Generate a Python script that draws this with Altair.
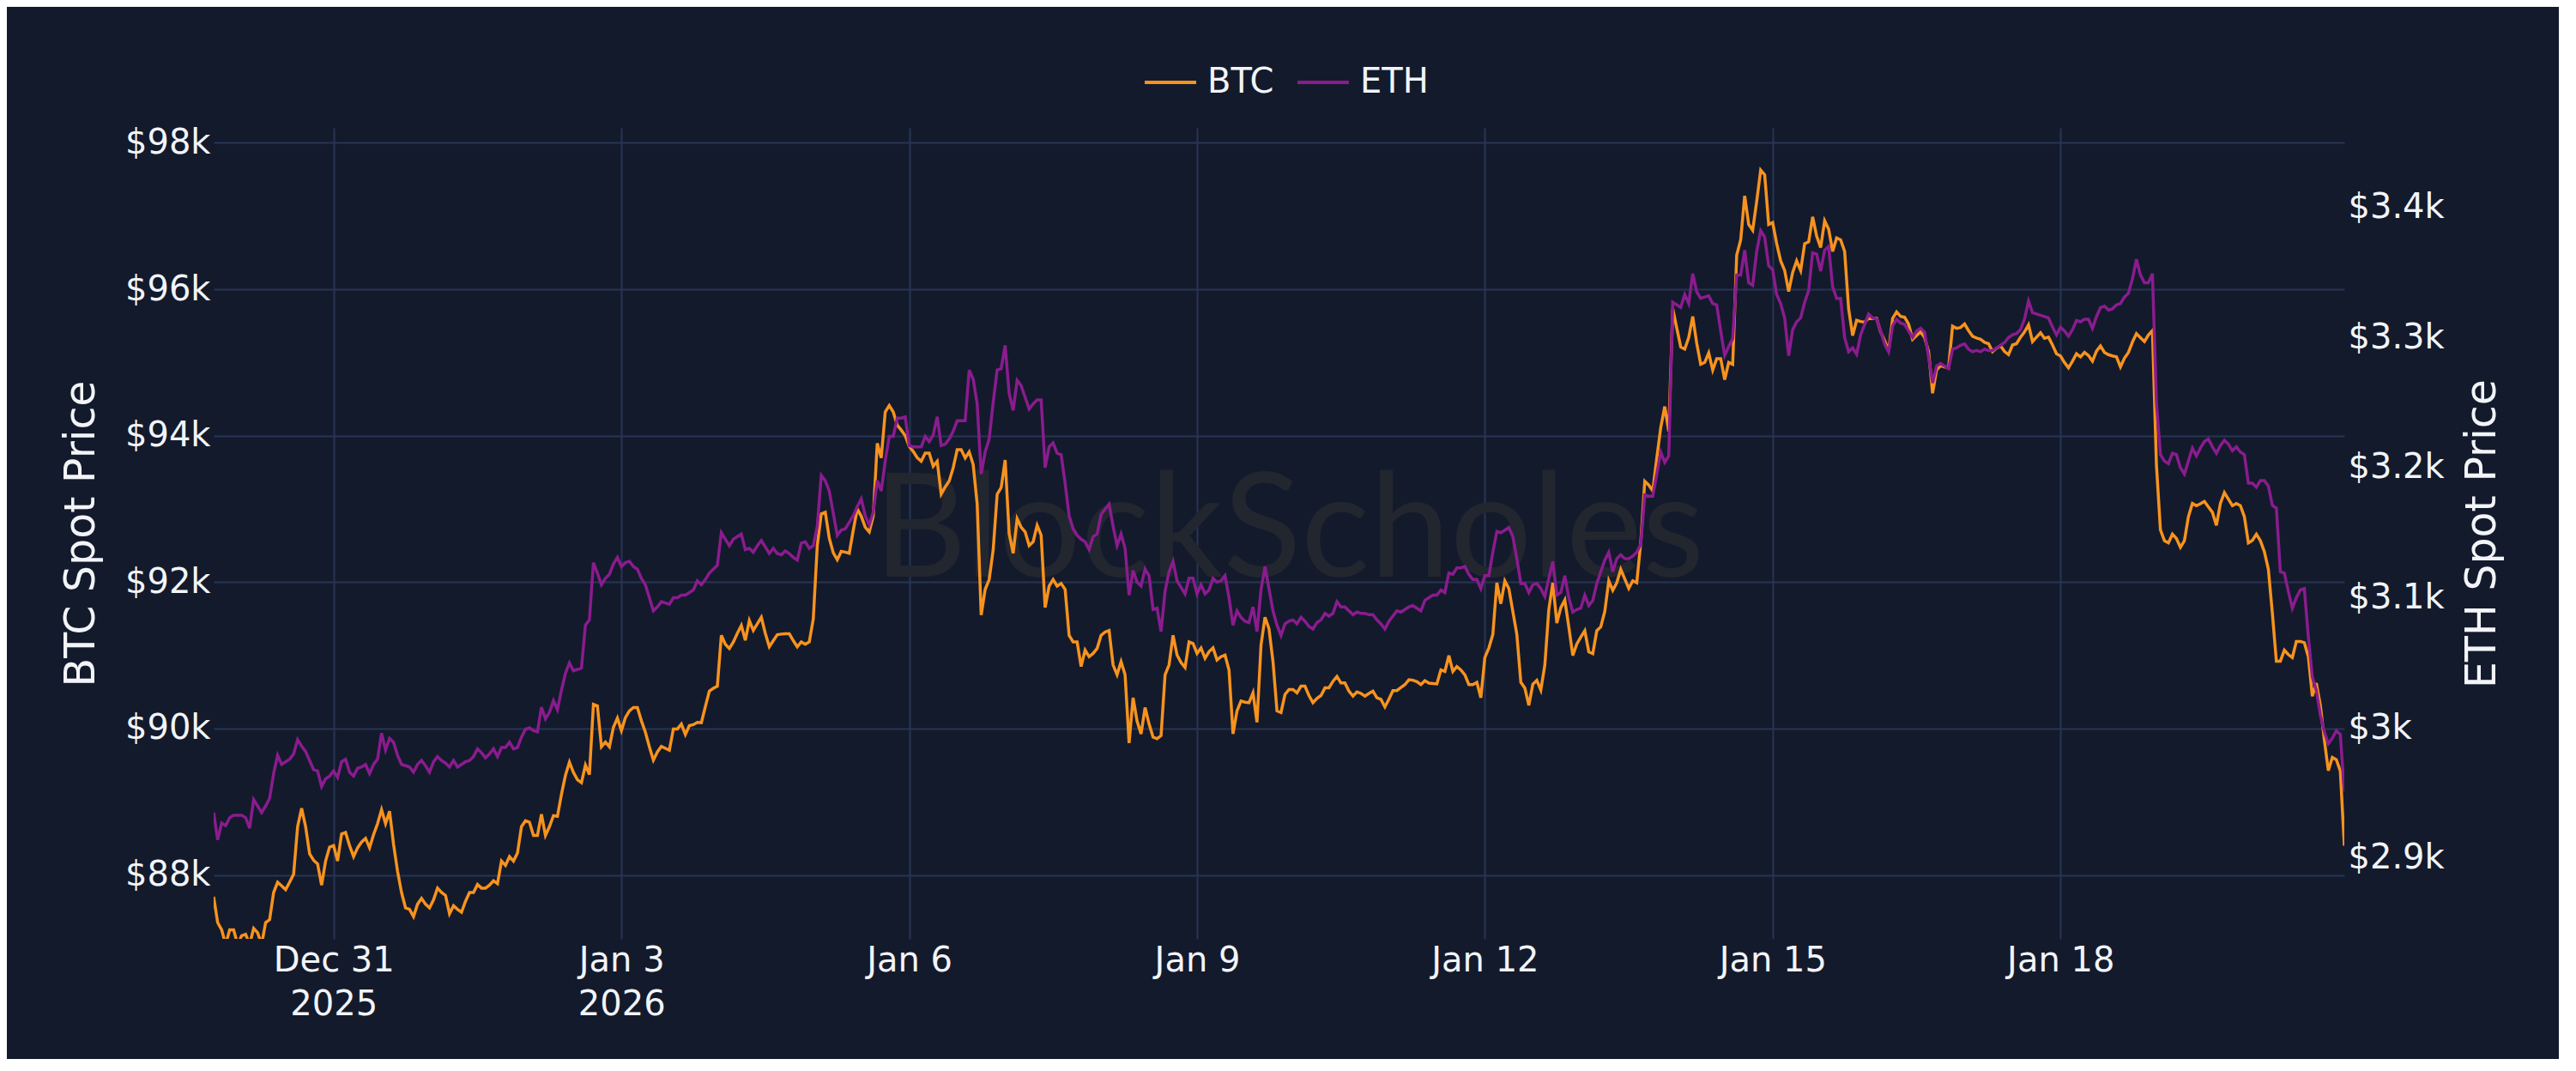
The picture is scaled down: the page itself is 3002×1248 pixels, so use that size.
import altair as alt
import pandas as pd

# ---------------- data (hourly, first point 2025-12-29 18:00) ----------------
START = "2025-12-29T18:00:00"

btc_values = [
    87700, 87350, 87250, 87050, 87250, 87250, 87050, 87170, 87190, 87050,
    87270, 87210, 87050, 87350, 87390, 87760, 87900, 87850, 87800, 87900,
    88010, 88660, 88910, 88660, 88290, 88200, 88150, 87860, 88190, 88380,
    88400, 88190, 88560, 88580, 88400, 88250, 88370, 88450, 88500, 88370,
    88550, 88700, 88890, 88700, 88870, 88420, 88050, 87760, 87550, 87530,
    87430, 87600, 87680, 87600, 87550, 87660, 87820, 87760, 87720, 87470,
    87580, 87530, 87490, 87640, 87760, 87760, 87870, 87820, 87820, 87860,
    87920, 87880, 88190, 88130, 88250, 88190, 88300, 88660, 88740, 88720,
    88540, 88540, 88830, 88540, 88660, 88810, 88800, 89100, 89360, 89540,
    89400, 89300, 89260, 89500, 89370, 90330, 90310, 89750, 89815, 89750,
    90017, 90142, 89972, 90150, 90241, 90286, 90286, 90106, 89950, 89750,
    89568, 89680, 89757, 89730, 89703, 89994, 89994, 90062, 89918, 90039,
    90053, 90084, 90080, 90300, 90510, 90550, 90578, 91273, 91150, 91093,
    91180, 91300, 91407, 91206, 91475, 91340, 91430, 91520, 91300, 91116,
    91200, 91282, 91290, 91295, 91295, 91200, 91116, 91183, 91150, 91183,
    91497, 92500, 92933, 92955, 92600, 92400, 92305, 92420, 92410, 92394,
    92708, 93000, 92900, 92750, 92686, 92900, 93897, 93696, 94324, 94413,
    94324, 94144, 94077, 94000, 93853, 93785, 93700, 93651, 93763, 93763,
    93583, 93650, 93202, 93300, 93382, 93561, 93808, 93808, 93696, 93780,
    93606, 93067, 91550, 91900, 92035, 92440, 93200, 93290, 93668, 92664,
    92394, 92866, 92750, 92686, 92500, 92552, 92776, 92641, 91654, 91946,
    92035, 91946, 91982, 91901, 91273, 91183, 91183, 90847, 91071, 90981,
    91026, 91093, 91273, 91318, 91340, 90869, 90734, 90914, 90734, 89801,
    90420, 90100, 89927, 90286, 90062, 89882, 89860, 89904, 90734, 90869,
    91273, 91004, 90900, 90833, 91183, 91161, 91026, 91100, 90959, 91050,
    91102, 90936, 90981, 91004, 90800, 89927, 90241, 90376, 90360, 90353,
    90488, 90084, 91138, 91520, 91363, 90914, 90241, 90219, 90465, 90533,
    90533, 90488, 90578, 90578, 90450, 90353, 90411, 90450, 90555, 90555,
    90645, 90712, 90622, 90622, 90510, 90443, 90500, 90480, 90443, 90480,
    90510, 90420, 90398, 90295, 90400, 90519, 90519, 90560, 90600, 90667,
    90660, 90640, 90600, 90654, 90620, 90615, 90609, 90802, 90780, 90995,
    90780, 90847, 90800, 90734, 90600, 90600, 90631, 90421, 90971, 91100,
    91285, 91991, 91704, 92018, 91913, 91600, 91285, 90631, 90552, 90317,
    90605, 90657, 90526, 90866, 91625, 91991, 91441, 91651, 91756, 91389,
    90997, 91154, 91250, 91337, 91049, 91023, 91337, 91389, 91599, 92018,
    91887, 91991, 92174, 92044, 91913, 92018, 91991, 92541, 93378, 93326,
    93247, 93692, 94111, 94399, 94058, 95735, 95471, 95212, 95184, 95341,
    95629, 95263, 94975, 95001, 95131, 94896, 95053, 95053, 94765, 95001,
    94975, 96466, 96676, 97277, 96885, 96806, 97199, 97628, 97565, 96885,
    96911, 96623, 96388, 96257, 95969, 96231, 96388, 96257, 96623, 96649,
    96989, 96728, 96571, 96937, 96822, 96518, 96702, 96676, 96518, 95733,
    95367, 95576, 95560, 95550, 95602, 95600, 95602, 95419, 95300, 95158,
    95602, 95691, 95629, 95618, 95524, 95315, 95367, 95419, 95341, 95150,
    94580, 94900, 94958, 94940, 94928, 95496, 95466, 95478, 95526, 95436,
    95358, 95334, 95316, 95275, 95257, 95150, 95197, 95227, 95150, 95107,
    95239, 95257, 95346, 95418, 95514, 95286, 95346, 95406, 95330, 95346,
    95239, 95119, 95090, 95000, 94928, 95017, 95119, 95077, 95137, 95095,
    95017, 95155, 95227, 95137, 95107, 95090, 95077, 94940, 95059, 95137,
    95280, 95394, 95340, 95286, 95376, 95436, 93600, 92714, 92565, 92535,
    92655, 92595, 92476, 92565, 92894, 93074, 93044, 93070, 93103, 93026,
    92954, 92774, 93074, 93223, 93133, 93044, 93074, 93044, 92894, 92535,
    92570, 92655, 92565, 92416, 92176, 91578, 90920, 90920, 91070, 91010,
    90968, 91190, 91190, 91172, 90980, 90442, 90621, 90322, 89844, 89425,
    89605, 89575, 89420, 88400,
]

eth_values = [
    2935, 2914, 2927, 2925, 2931, 2933, 2933, 2933, 2931, 2923,
    2945, 2940, 2935, 2940, 2946, 2965, 2979, 2972, 2974, 2976,
    2980, 2991, 2986, 2982, 2975, 2968, 2967, 2955, 2961, 2963,
    2967, 2962, 2974, 2976, 2966, 2963, 2969, 2970, 2972, 2965,
    2972, 2976, 2996, 2983, 2992, 2989, 2979, 2972, 2971, 2970,
    2966, 2972, 2975, 2971, 2966, 2974, 2978, 2975, 2973, 2970,
    2975, 2970, 2972, 2974, 2975, 2978, 2984, 2981, 2977, 2980,
    2984, 2978, 2985, 2985, 2989, 2984, 2985, 2993, 2999, 3000,
    2998, 2997, 3016, 3007, 3012, 3021, 3014, 3029, 3042, 3050,
    3044, 3045, 3046, 3079, 3083, 3127, 3119, 3110, 3115, 3118,
    3126, 3131, 3124, 3127, 3128, 3124, 3122, 3115, 3110, 3100,
    3090, 3093, 3097, 3096, 3095, 3100, 3100, 3102, 3102, 3104,
    3106, 3113, 3110, 3114, 3119, 3122, 3125, 3150, 3145, 3140,
    3145, 3147, 3149, 3137, 3138, 3135, 3140, 3144, 3139, 3134,
    3138, 3134, 3133, 3136, 3134, 3131, 3129, 3142, 3143, 3138,
    3140, 3155, 3194, 3190, 3182, 3165, 3148, 3152, 3153, 3158,
    3163, 3170, 3176, 3163, 3156, 3166, 3190, 3182, 3205, 3224,
    3224, 3238, 3238, 3239, 3217, 3216, 3216, 3216, 3224, 3220,
    3225, 3239, 3217, 3218, 3222, 3228, 3236, 3236, 3236, 3275,
    3268, 3249, 3195, 3212, 3222, 3250, 3275, 3276, 3294, 3257,
    3244, 3267, 3263, 3254, 3245, 3249, 3252, 3252, 3200, 3216,
    3219, 3211, 3210, 3188, 3163, 3153, 3148, 3145, 3143, 3137,
    3147, 3149, 3164, 3168, 3172, 3155, 3140, 3149, 3138, 3102,
    3121, 3112, 3109, 3122, 3117, 3091, 3092, 3074, 3105, 3120,
    3128, 3113, 3108, 3103, 3115, 3115, 3103, 3110, 3103, 3106,
    3115, 3112, 3113, 3117, 3100, 3079, 3090, 3085, 3082, 3081,
    3093, 3074, 3106, 3124, 3107, 3090, 3079, 3071, 3080, 3082,
    3083, 3080, 3085, 3082, 3078, 3076, 3081, 3083, 3088, 3086,
    3088, 3097, 3093, 3093, 3090, 3087, 3089, 3088, 3088, 3087,
    3087, 3083, 3080, 3076, 3082, 3086, 3090, 3089, 3091, 3093,
    3094, 3092, 3090, 3098, 3100, 3102, 3102, 3106, 3104, 3119,
    3118, 3123, 3123, 3124, 3118, 3114, 3114, 3107, 3117, 3117,
    3135, 3151, 3150, 3152, 3154, 3147, 3130, 3111, 3111, 3104,
    3110, 3111, 3107, 3101, 3115, 3128, 3102, 3104, 3117, 3100,
    3089, 3091, 3092, 3102, 3094, 3098, 3111, 3120, 3129, 3135,
    3120, 3130, 3133, 3130, 3130, 3132, 3135, 3141, 3179, 3178,
    3178, 3195, 3212, 3204, 3209, 3327, 3325, 3323, 3333, 3326,
    3349, 3335, 3330, 3331, 3332, 3326, 3325, 3305, 3286, 3293,
    3299, 3348, 3348, 3367, 3342, 3340, 3366, 3382, 3377, 3355,
    3352, 3333, 3326, 3315, 3286, 3306, 3312, 3315, 3327, 3336,
    3365, 3364, 3351, 3367, 3370, 3339, 3330, 3330, 3300, 3289,
    3292, 3287, 3302, 3310, 3318, 3315, 3314, 3305, 3295, 3289,
    3309, 3314, 3311, 3310, 3305, 3300, 3305, 3307, 3304, 3285,
    3265, 3278, 3280, 3278, 3276, 3291, 3292, 3294, 3295, 3291,
    3289, 3290, 3289, 3291, 3290, 3290, 3292, 3294, 3296, 3300,
    3302, 3303, 3306, 3314, 3328, 3319, 3318, 3317, 3316, 3315,
    3308, 3302, 3308, 3305, 3301, 3306, 3313, 3312, 3314, 3314,
    3307, 3316, 3323, 3324, 3321, 3322, 3325, 3326, 3331, 3334,
    3345, 3360, 3348, 3342, 3342, 3349, 3250, 3210, 3205, 3203,
    3211, 3210, 3200, 3195, 3205, 3215, 3209, 3215, 3220, 3222,
    3216, 3211, 3217, 3221, 3218, 3213, 3216, 3212, 3210, 3188,
    3188, 3185, 3190, 3190, 3186, 3171, 3169, 3120, 3119, 3105,
    3092, 3100, 3106, 3107, 3070, 3039, 3029, 3010, 2997, 2988,
    2992, 2998, 2995, 2951,
]

series_names = ["BTC", "ETH"]
series_colors = ["#F7931E", "#8A1C8E"]

btc_ticks = [88000, 90000, 92000, 94000, 96000, 98000]
eth_ticks = [2900, 3000, 3100, 3200, 3300, 3400]
btc_domain = [87127, 98205]
eth_domain = [2838, 3461]

x_tick_dates = ["2025-12-31", "2026-01-03", "2026-01-06", "2026-01-09",
                "2026-01-12", "2026-01-15", "2026-01-18"]
x_tick_labels = [["Dec 31", "2025"], ["Jan 3", "2026"], ["Jan 6"], ["Jan 9"],
                 ["Jan 12"], ["Jan 15"], ["Jan 18"]]

watermark_text = ["BlockScholes"]
watermark_time = ["2026-01-09T23:00:00"]
watermark_level = [92666]

# ---------------- styling ----------------
BG = "#131A2C"
GRID = "#283454"
TXT = "#F2F4F8"
FONT = "DejaVu Sans"

times = pd.date_range(START, periods=len(btc_values), freq="h")
tstr = times.strftime("%Y-%m-%dT%H:%M:%S")

btc_df = pd.DataFrame({"time": tstr, "price": btc_values, "series": "BTC"})
eth_df = pd.DataFrame({"time": tstr[: len(eth_values)], "price": eth_values, "series": "ETH"})
wm_df = pd.DataFrame({"time": watermark_time, "level": watermark_level, "label": watermark_text})


def to_dt(s):
    ts = pd.Timestamp(s)
    return alt.DateTime(year=ts.year, month=ts.month, date=ts.day, hours=ts.hour)


x_domain = [to_dt(times[0]), to_dt(times[len(btc_values) - 1])]

expr = "''"
for d, lab in reversed(list(zip(x_tick_dates, x_tick_labels))):
    arr = "[" + ",".join("'" + s + "'" for s in lab) + "]"
    expr = f"timeFormat(datum.value, '%Y-%m-%d') == '{d}' ? {arr} : ({expr})"

x_axis = alt.Axis(
    values=[to_dt(d) for d in x_tick_dates],
    labelExpr=expr,
    title=None,
    grid=True,
    gridColor=GRID,
    gridWidth=2,
    domain=False,
    ticks=False,
    labelPadding=5,
    labelFontSize=40,
    labelLineHeight=51,
    labelColor=TXT,
    labelFont=FONT,
    labelOverlap=False,
    labelFlush=False,
    labelBaseline="top",
)
X = alt.X("time:T", scale=alt.Scale(domain=x_domain, nice=False), axis=x_axis)

color = alt.Color(
    "series:N",
    scale=alt.Scale(domain=series_names, range=series_colors),
    legend=alt.Legend(
        title=None,
        orient="none",
        legendX=1083,
        legendY=-85,
        direction="horizontal",
        symbolType="stroke",
        symbolSize=3600,
        symbolStrokeWidth=4,
        labelFontSize=40,
        labelFont=FONT,
        labelColor=TXT,
        labelOffset=11,
        columnPadding=19,
        padding=0,
    ),
)

watermark = alt.Chart(wm_df).mark_text(
    font="Lato", fontSize=168, color="#22262F", align="center", baseline="middle"
).encode(
    x=X,
    y=alt.Y("level:Q", scale=alt.Scale(domain=btc_domain, nice=False, zero=False), axis=None),
    text="label:N",
)

btc_line = alt.Chart(btc_df).mark_line(strokeWidth=3.5, clip=True).encode(
    x=X,
    y=alt.Y(
        "price:Q",
        scale=alt.Scale(domain=btc_domain, nice=False, zero=False),
        axis=alt.Axis(
            orient="left",
            values=btc_ticks,
            labelExpr="'$' + datum.value / 1000 + 'k'",
            title="BTC Spot Price",
            titleFontSize=49,
            titleFontWeight="normal",
            titleColor=TXT,
            titleFont=FONT,
            titleAngle=270,
            titleBaseline="bottom",
            titlePadding=26,
            grid=True,
            gridColor=GRID,
            gridWidth=2,
            domain=False,
            ticks=False,
            labelPadding=4,
            labelFontSize=40,
            labelColor=TXT,
            labelFont=FONT,
        ),
    ),
    color=color,
)

eth_line = alt.Chart(eth_df).mark_line(strokeWidth=3.5, clip=True).encode(
    x=X,
    y=alt.Y(
        "price:Q",
        scale=alt.Scale(domain=eth_domain, nice=False, zero=False),
        axis=alt.Axis(
            orient="right",
            values=eth_ticks,
            labelExpr="'$' + datum.value / 1000 + 'k'",
            title="ETH Spot Price",
            titleFontSize=49,
            titleFontWeight="normal",
            titleColor=TXT,
            titleFont=FONT,
            titleAngle=270,
            titleBaseline="top",
            titlePadding=20,
            grid=False,
            domain=False,
            ticks=False,
            labelPadding=4,
            labelFontSize=40,
            labelColor=TXT,
            labelFont=FONT,
        ),
    ),
    color=color,
)

chart = (
    alt.layer(watermark, btc_line, eth_line)
    .resolve_scale(y="independent")
    .properties(
        width=2483,
        height=945,
        background=BG,
        padding={"left": 241, "top": 141, "right": 250, "bottom": 140},
        autosize=alt.AutoSizeParams(type="none"),
    )
    .configure_view(stroke=None)
)

chart.save("out.html", embed_options={"renderer": "svg", "actions": False})
